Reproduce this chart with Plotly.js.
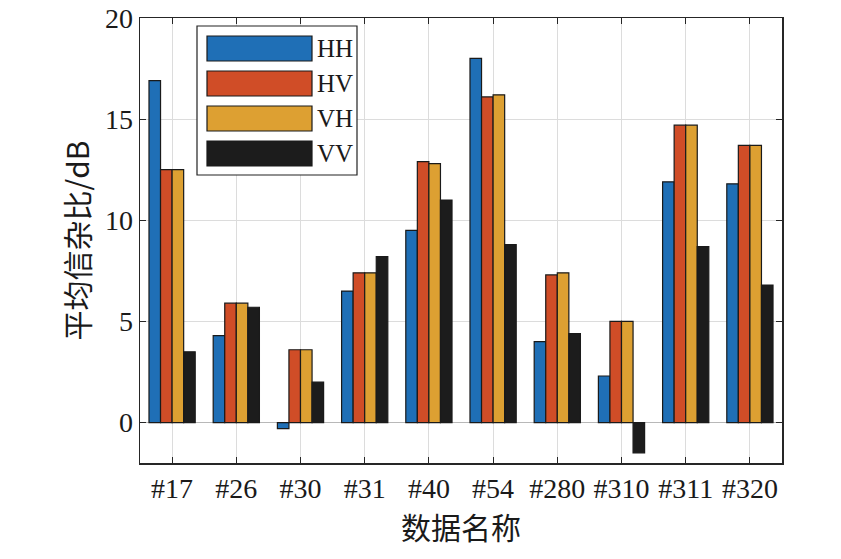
<!DOCTYPE html>
<html>
<head>
<meta charset="utf-8">
<script src="https://cdn.plot.ly/plotly-3.0.1.min.js"></script>
<style>html,body{margin:0;padding:0;background:#fff;}#chart{width:841px;height:559px;}</style>
</head>
<body>
<div id="chart"></div>
<script>
// ---- data ----
var categories = ["#17", "#26", "#30", "#31", "#40", "#54", "#280", "#310", "#311", "#320"];
var seriesNames = ["HH", "HV", "VH", "VV"];
var HH = [16.9, 4.3, -0.3, 6.5, 9.5, 18.0, 4.0, 2.3, 11.9, 11.8];
var HV = [12.5, 5.9, 3.6, 7.4, 12.9, 16.1, 7.3, 5.0, 14.7, 13.7];
var VH = [12.5, 5.9, 3.6, 7.4, 12.8, 16.2, 7.4, 5.0, 14.7, 13.7];
var VV = [3.5, 5.7, 2.0, 8.2, 11.0, 8.8, 4.4, -1.5, 8.7, 6.8];
var yTickVals = [0, 5, 10, 15, 20];
var yTitle = "平均信杂比/dB";
var xTitle = "数据名称";

// ---- styling ----
var colors = ["#1F6FB6", "#D04D27", "#DDA032", "#1C1C1C"];
var seriesValues = [HH, HV, VH, VV];
var W = 841, H = 559;
var M = {l: 140, r: 59, t: 18, b: 96};
var pw = W - M.l - M.r, ph = H - M.t - M.b;
function px2x(px) { return (px - M.l) / pw; }
function py2y(py) { return (M.t + ph - py) / ph; }

var traces = seriesNames.map(function (name, i) {
  return {
    type: "bar",
    name: name,
    x: categories,
    y: seriesValues[i],
    marker: {color: colors[i], line: {color: "#1a1a1a", width: 1.2}},
    showlegend: false,
    hoverinfo: "x+y+name"
  };
});

// legend drawn as shapes + text (MATLAB-style wide patches)
var shapes = [{
  type: "rect", xref: "paper", yref: "paper",
  x0: px2x(197), x1: px2x(357), y0: py2y(175), y1: py2y(26),
  line: {color: "#222", width: 1.2}, fillcolor: "#ffffff", layer: "above"
}];
var annotations = [];
seriesNames.forEach(function (name, i) {
  var cy = 48.5 + 35 * i;
  shapes.push({
    type: "rect", xref: "paper", yref: "paper",
    x0: px2x(207), x1: px2x(312), y0: py2y(cy + 12.5), y1: py2y(cy - 12.5),
    line: {color: "#1a1a1a", width: 1.2}, fillcolor: colors[i], layer: "above"
  });
  annotations.push({
    xref: "paper", yref: "paper", x: px2x(315), y: py2y(cy),
    xanchor: "left", yanchor: "middle", showarrow: false,
    text: name, font: {family: "Liberation Serif", size: 25, color: "#1a1a1a"}
  });
});

var layout = {
  width: W, height: H,
  margin: M,
  paper_bgcolor: "#ffffff",
  plot_bgcolor: "#ffffff",
  barmode: "group",
  bargap: 0.28,
  bargroupgap: 0,
  showlegend: false,
  font: {family: "Liberation Serif", color: "#1a1a1a"},
  xaxis: {
    type: "category",
    range: [-0.5, categories.length - 0.5],
    showgrid: true, gridcolor: "#dcdcdc", gridwidth: 1,
    showline: true, linecolor: "#262626", linewidth: 1.5, mirror: "ticks",
    ticks: "inside", ticklen: 6, tickcolor: "#262626", tickwidth: 1,
    tickfont: {family: "Liberation Serif", size: 28, color: "#1a1a1a"},
    title: {text: xTitle, font: {family: "Noto Sans CJK SC", size: 30, color: "#1a1a1a"}, standoff: 0},
    automargin: false
  },
  yaxis: {
    range: [-2, 20],
    tickvals: yTickVals,
    showgrid: true, gridcolor: "#dcdcdc", gridwidth: 1,
    zeroline: true, zerolinecolor: "#b8b8b8", zerolinewidth: 1,
    showline: true, linecolor: "#262626", linewidth: 1.5, mirror: "ticks",
    ticks: "inside", ticklen: 6, tickcolor: "#262626", tickwidth: 1,
    tickfont: {family: "Liberation Serif", size: 28, color: "#1a1a1a"},
    title: {text: yTitle, font: {family: "Noto Sans CJK SC", size: 30, color: "#1a1a1a"}, standoff: 6},
    automargin: false
  },
  shapes: shapes,
  annotations: annotations
};

Plotly.newPlot("chart", traces, layout, {displayModeBar: false, staticPlot: true});
</script>
</body>
</html>
